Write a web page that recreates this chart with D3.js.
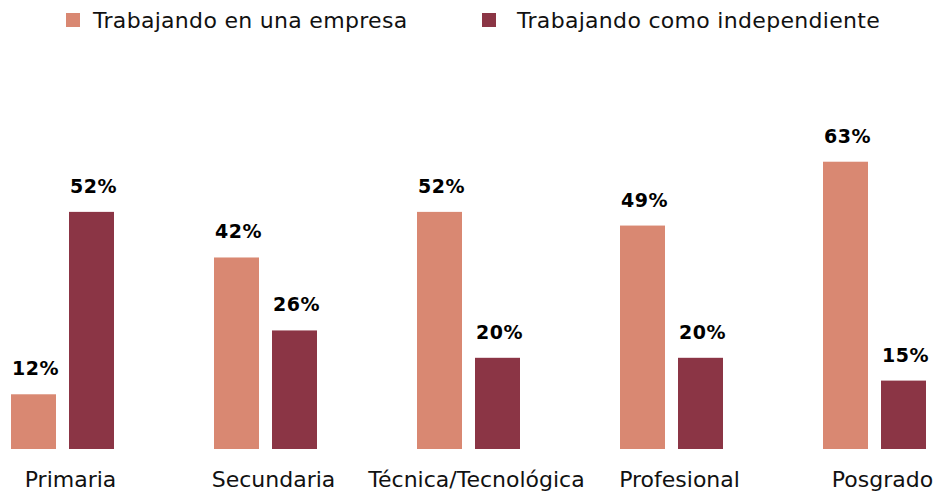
<!DOCTYPE html>
<html lang="es">
  <head>
    <meta charset="UTF-8" />
    <title>Trabajando en una empresa vs independiente</title>
    <script src="https://d3js.org/d3.v7.min.js"></script>
    <style>
      body {
        margin: 0;
        background: #fff;
        font-family: "DejaVu Sans", Arial, sans-serif;
      }
      .cat-label {
        font-size: 22px;
        fill: #111;
      }
      .val-label {
        font-size: 19px;
        font-weight: bold;
        letter-spacing: 0.5px;
        fill: #000;
      }
      .legend text {
        font-size: 22px;
        letter-spacing: 0.3px;
        fill: #111;
      }
    </style>
  </head>
  <body>
    <script>
      var categories = [
        "Primaria",
        "Secundaria",
        "Técnica/Tecnológica",
        "Profesional",
        "Posgrado",
      ];
      var series = ["Trabajando en una empresa", "Trabajando como independiente"];
      var empresa = [12, 42, 52, 49, 63];
      var independiente = [52, 26, 20, 20, 15];
      var colors = ["#d98872", "#8b3545"];

      var width = 944,
        height = 496;

      var svg = d3
        .select("body")
        .append("svg")
        .attr("width", width)
        .attr("height", height);

      // each group is 203px wide, pair of bars spans 103px
      var x0 = d3
        .scaleBand()
        .domain(categories)
        .range([11, 11 + 203 * categories.length]);

      var x1 = d3
        .scaleBand()
        .domain(series)
        .range([0, 103])
        .paddingInner(13 / 58);

      var y = d3.scaleLinear().domain([0, 100]).range([449, -7]);

      var rows = categories.map(function (c, i) {
        return { cat: c, values: [empresa[i], independiente[i]] };
      });

      var groups = svg
        .selectAll(".group")
        .data(rows)
        .enter()
        .append("g")
        .attr("class", "group")
        .attr("transform", function (d) {
          return "translate(" + x0(d.cat) + ",0)";
        });

      groups
        .selectAll("rect")
        .data(function (d) {
          return d.values.map(function (v, j) {
            return { key: series[j], value: v, j: j };
          });
        })
        .enter()
        .append("rect")
        .attr("x", function (d) {
          return x1(d.key);
        })
        .attr("y", function (d) {
          return y(d.value);
        })
        .attr("width", x1.bandwidth())
        .attr("height", function (d) {
          return y(0) - y(d.value);
        })
        .attr("fill", function (d) {
          return colors[d.j];
        });

      groups
        .selectAll(".val-label")
        .data(function (d) {
          return d.values.map(function (v, j) {
            return { key: series[j], value: v };
          });
        })
        .enter()
        .append("text")
        .attr("class", "val-label")
        .attr("text-anchor", "middle")
        .attr("x", function (d) {
          return x1(d.key) + x1.bandwidth() / 2 + 2;
        })
        .attr("y", function (d) {
          return y(d.value) - 19;
        })
        .text(function (d) {
          return d.value + "%";
        });

      groups
        .append("text")
        .attr("class", "cat-label")
        .attr("text-anchor", "middle")
        .attr("x", 103 / 2 + 8)
        .attr("y", 487)
        .text(function (d) {
          return d.cat;
        });

      // legend
      var legendX = [66, 482];
      var legendGap = [27, 35];
      var legend = svg
        .selectAll(".legend")
        .data(series)
        .enter()
        .append("g")
        .attr("class", "legend")
        .attr("transform", function (d, i) {
          return "translate(" + legendX[i] + ",13)";
        });

      legend
        .append("rect")
        .attr("width", 14)
        .attr("height", 14)
        .attr("fill", function (d, i) {
          return colors[i];
        });

      legend
        .append("text")
        .attr("x", function (d, i) {
          return legendGap[i];
        })
        .attr("y", 15)
        .text(function (d) {
          return d;
        });
    </script>
  </body>
</html>
